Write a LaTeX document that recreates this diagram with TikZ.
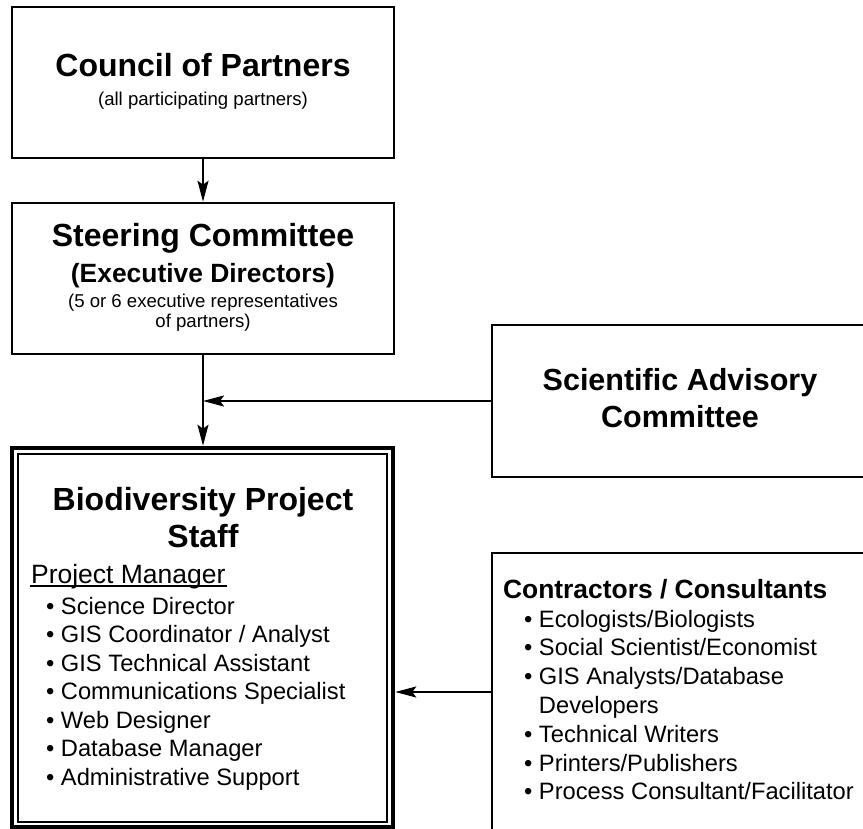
\documentclass[tikz,border=0pt]{standalone}
\usepackage{fontspec}
\setmainfont{Liberation Sans}
\usetikzlibrary{arrows.meta}

\newcommand{\bul}{\textbullet\ }

\begin{document}
\begin{tikzpicture}[x=1pt,y=-1pt,line width=2.2pt,>={Stealth[length=21pt,width=11pt,inset=4pt]},
  box/.style={draw,line width=2.6pt,inner sep=0pt},
  head/.style={anchor=base,inner sep=0pt,font=\fontsize{32}{37}\selectfont\bfseries},
  headsm/.style={anchor=base,inner sep=0pt,font=\fontsize{26.4}{30}\selectfont\bfseries},
  note/.style={anchor=base,inner sep=0pt,font=\fontsize{18.6}{20}\selectfont},
  item/.style={anchor=base west,inner sep=0pt,font=\fontsize{23.7}{28}\selectfont}]
\useasboundingbox (0,0) rectangle (863,829);
\clip (0,0) rectangle (863,829);

% frames
\node[box,minimum width=382pt,minimum height=151pt] (council) at (203,82.5) {};
\node[box,minimum width=382pt,minimum height=151pt] (steering) at (203,278.5) {};
\node[box,minimum width=376pt,minimum height=152pt] (sac) at (680,401) {};
\node[box,minimum width=376pt,minimum height=278pt] (con) at (680,692) {};
\node[box,line width=4.5pt,minimum width=381pt,minimum height=379pt] (staff) at (202.5,637.5) {};
\draw[line width=2pt] ([shift={(8,8)}]staff.north west) rectangle ([shift={(-8,-7)}]staff.south east);

% council and steering text
\node[head] (ctitle) at (203,77) {Council of Partners};
\node[note] (cnote) at (203,106) {(all participating partners)};
\node[head] (stitle) at (203,247) {Steering Committee};
\node[headsm] (ssub) at (203,283) {(Executive Directors)};
\node[note] (snote1) at (203,308) {(5 or 6 executive representatives};
\node[note] (snote2) at (203,328) {of partners)};

% advisory committee
\node[head,font=\fontsize{30.5}{35}\selectfont\bfseries] (atitle1) at (680,390) {Scientific Advisory};
\node[head,font=\fontsize{30.5}{35}\selectfont\bfseries] (atitle2) at (680,427) {Committee};

% project staff
\node[head] (ptitle1) at (203,510) {Biodiversity Project};
\node[head] (ptitle2) at (203,547) {Staff};
\node[item,font=\fontsize{26.5}{30}\selectfont] (pm) at (30,583) {Project Manager};
\draw[line width=1.4pt] ([yshift=-3pt]pm.base west) -- ([yshift=-3pt]pm.base east);
\foreach \t [count=\i from 0] in {Science Director,GIS Coordinator / Analyst,GIS Technical Assistant,
  Communications Specialist,Web Designer,Database Manager,Administrative Support}
  \node[item] (st\i) at (45,{614+28.5*\i}) {\bul\t};

% contractors
\node[headsm,anchor=base west] (ktitle) at (502,598) {Contractors / Consultants};
\foreach \t [count=\i from 0] in {\bul Ecologists/Biologists,\bul Social Scientist/Economist,
  \bul GIS Analysts/Database,\phantom{\bul}Developers,\bul Technical Writers,
  \bul Printers/Publishers,\bul Process Consultant/Facilitator}
  \node[item] (kt\i) at (523,{627+28.8*\i}) {\t};

% reporting lines
\draw[->] (council) -- (steering);
\draw[->] (steering.south) -- (steering.south |- staff.north);
\draw[->] (sac.west) -- (sac.west -| steering.south);
\draw[->] (con.west) -- (con.west -| staff.east);
\end{tikzpicture}
\end{document}
